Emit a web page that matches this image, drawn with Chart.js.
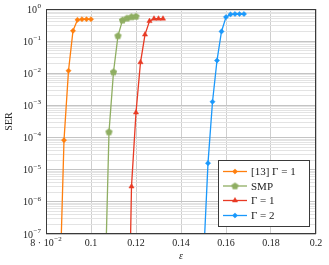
<!DOCTYPE html>
<html>
<head>
<meta charset="utf-8">
<script src="https://cdn.jsdelivr.net/npm/chart.js@4"></script>
<style>
  html, body { margin: 0; padding: 0; background: #fff; }
</style>
</head>
<body>
<canvas id="ser-chart" width="329" height="265"></canvas>
<script>
const epsRef13 = [0.086, 0.088, 0.090, 0.092, 0.094, 0.096, 0.098, 0.100];
const serRef13 = [1e-9, 8.3e-5, 0.012, 0.21, 0.46, 0.48, 0.48, 0.48];

const epsSmp = [0.106, 0.108, 0.110, 0.112, 0.114, 0.116, 0.118, 0.120];
const serSmp = [5e-10, 1.5e-4, 0.011, 0.147, 0.45, 0.52, 0.57, 0.59];

const epsGamma1 = [0.116, 0.118, 0.120, 0.122, 0.124, 0.126, 0.128, 0.130, 0.132];
const serGamma1 = [1e-13, 3e-6, 6e-4, 0.022, 0.16, 0.42, 0.5, 0.5, 0.5];

const epsGamma2 = [0.150, 0.152, 0.154, 0.156, 0.158, 0.160, 0.162, 0.164, 0.166, 0.168];
const serGamma2 = [1.6e-8, 1.6e-5, 1.3e-3, 0.025, 0.2, 0.56, 0.68, 0.7, 0.7, 0.7];

const xTicks = [0.08, 0.10, 0.12, 0.14, 0.16, 0.18, 0.20];
const xTickLabels = ['8 · 10', '0.1', '0.12', '0.14', '0.16', '0.18', '0.2'];
const yExponents = [0, -1, -2, -3, -4, -5, -6, -7];

const labels = ['[13] Γ = 1', 'SMP', 'Γ = 1', 'Γ = 2'];
const colors = ['#ff7f0e', '#8fae62', '#e83a24', '#1a98fb'];

const FONT = "'Liberation Serif', 'DejaVu Serif', serif";

const pentagon = (() => {
  const c = document.createElement('canvas');
  c.width = 9;
  c.height = 9;
  const g = c.getContext('2d');
  g.fillStyle = colors[1];
  g.beginPath();
  for (let i = 0; i < 5; i++) {
    const a = -Math.PI / 2 + i * 2 * Math.PI / 5;
    const px = 4.5 + 3.8 * Math.cos(a);
    const py = 4.7 + 3.8 * Math.sin(a);
    if (i === 0) g.moveTo(px, py); else g.lineTo(px, py);
  }
  g.closePath();
  g.fill();
  return c;
})();

const styles = ['rectRot', pentagon, 'triangle', 'rectRot'];
const radii = [2.6, 3, 3, 2.6];

const toPoints = (xs, ys) => xs.map((x, i) => ({ x, y: ys[i] }));

const series = [
  toPoints(epsRef13, serRef13),
  toPoints(epsSmp, serSmp),
  toPoints(epsGamma1, serGamma1),
  toPoints(epsGamma2, serGamma2)
];

const datasets = series.map((data, i) => ({
  label: labels[i],
  data,
  borderColor: colors[i],
  backgroundColor: colors[i],
  borderWidth: 1.3,
  pointStyle: styles[i],
  pointRadius: radii[i],
  pointBorderWidth: 0.5,
  tension: 0,
  fill: false
}));

const drawPower = (ctx, base, exp, x, y, align) => {
  ctx.font = `10px ${FONT}`;
  const wBase = ctx.measureText(base).width;
  ctx.font = `7px ${FONT}`;
  const wExp = ctx.measureText(exp).width;
  const total = wBase + wExp + 0.5;
  let left = x;
  if (align === 'right') left = x - total;
  if (align === 'center') left = x - total / 2;
  ctx.textAlign = 'left';
  ctx.textBaseline = 'middle';
  ctx.font = `10px ${FONT}`;
  ctx.fillText(base, left, y + 1);
  ctx.font = `7px ${FONT}`;
  ctx.fillText(exp, left + wBase + 0.5, y - 3);
};

const textPlugin = {
  id: 'textPlugin',
  afterDraw(chart) {
    const { ctx, chartArea: area, scales } = chart;
    ctx.save();

    ctx.strokeStyle = '#3a3a3a';
    ctx.lineWidth = 1;
    ctx.strokeRect(Math.round(area.left) + 0.5, Math.round(area.top) + 0.5,
      Math.round(area.right - area.left) - 1, Math.round(area.bottom - area.top) - 1);

    ctx.fillStyle = '#222';
    yExponents.forEach((k) => {
      const py = scales.y.getPixelForValue(Math.pow(10, k));
      drawPower(ctx, '10', k === 0 ? '0' : '−' + (-k), 41, py, 'right');
    });

    xTicks.forEach((v, i) => {
      const px = scales.x.getPixelForValue(v);
      if (i === 0) {
        drawPower(ctx, xTickLabels[i], '−2', px, 242, 'center');
      } else {
        ctx.font = `10px ${FONT}`;
        ctx.textAlign = 'center';
        ctx.textBaseline = 'middle';
        ctx.fillText(xTickLabels[i], px, 243);
      }
    });

    ctx.font = `italic 10px ${FONT}`;
    ctx.textAlign = 'center';
    ctx.textBaseline = 'middle';
    ctx.fillText('ε', (area.left + area.right) / 2, 256);

    ctx.save();
    ctx.translate(9, (area.top + area.bottom) / 2);
    ctx.rotate(-Math.PI / 2);
    ctx.font = `10px ${FONT}`;
    ctx.fillText('SER', 0, 0);
    ctx.restore();

    const box = { left: 218.5, top: 160.5, width: 91, height: 66 };
    ctx.fillStyle = '#fff';
    ctx.fillRect(box.left, box.top, box.width, box.height);
    ctx.strokeStyle = '#3a3a3a';
    ctx.strokeRect(box.left, box.top, box.width, box.height);

    const rowY = [171.5, 186, 200.5, 215.5];
    datasets.forEach((ds, i) => {
      const y = rowY[i];
      ctx.strokeStyle = ds.borderColor;
      ctx.lineWidth = 1.3;
      ctx.beginPath();
      ctx.moveTo(223, y);
      ctx.lineTo(247, y);
      ctx.stroke();
      ctx.fillStyle = ds.backgroundColor;
      ctx.lineWidth = 0.5;
      Chart.helpers.drawPoint(ctx, {
        pointStyle: ds.pointStyle,
        radius: ds.pointRadius,
        rotation: 0,
        borderWidth: 0.5
      }, 235, y);
      ctx.fillStyle = '#222';
      ctx.font = `11px ${FONT}`;
      ctx.textAlign = 'left';
      ctx.textBaseline = 'middle';
      ctx.fillText(ds.label, 251, y + 1);
    });

    ctx.restore();
  }
};

const yGridTicks = [];
for (let k = -7; k <= 0; k++) {
  for (let m = 1; m <= 9; m++) {
    const v = m * Math.pow(10, k);
    if (v <= 1.0000001) yGridTicks.push(v);
  }
}

const isMajor = (v) => Math.abs(Math.log10(v) - Math.round(Math.log10(v))) < 1e-6;

new Chart(document.getElementById('ser-chart'), {
  type: 'line',
  data: { datasets },
  options: {
    responsive: false,
    animation: false,
    devicePixelRatio: 1,
    layout: { padding: { left: 0, right: 13, top: 9, bottom: 0 } },
    plugins: {
      legend: { display: false },
      tooltip: { enabled: false }
    },
    scales: {
      x: {
        type: 'linear',
        min: 0.08,
        max: 0.2,
        afterBuildTicks: (scale) => {
          scale.ticks = xTicks.map((value) => ({ value }));
        },
        afterFit: (scale) => { scale.height = 31; },
        ticks: { display: false },
        border: { display: false },
        grid: { color: '#cfcfcf', lineWidth: 1, drawTicks: false }
      },
      y: {
        type: 'logarithmic',
        min: 1e-7,
        max: 1,
        afterBuildTicks: (scale) => {
          scale.ticks = yGridTicks.map((value) => ({ value }));
        },
        afterFit: (scale) => { scale.width = 46; },
        ticks: { display: false },
        border: { display: false },
        grid: {
          drawTicks: false,
          lineWidth: 1,
          color: (c) => (c.tick && isMajor(c.tick.value) ? '#c4c4c4' : '#e3e3e3')
        }
      }
    }
  },
  plugins: [textPlugin]
});
</script>
</body>
</html>
